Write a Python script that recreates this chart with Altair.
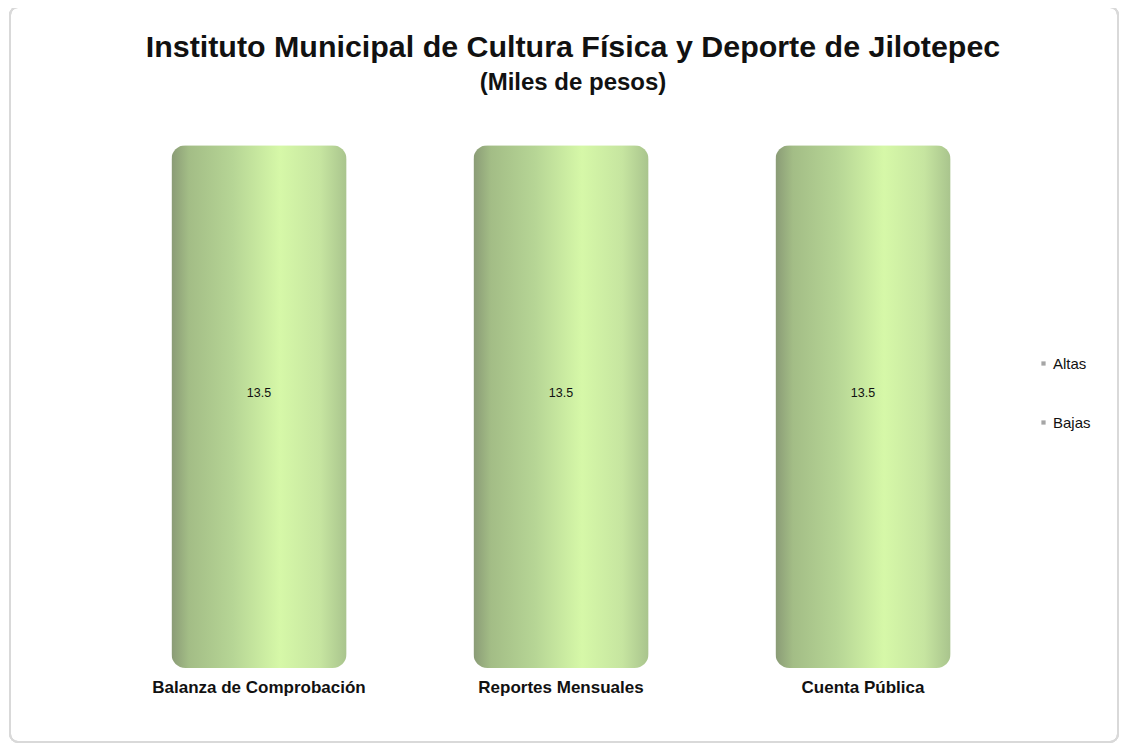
import altair as alt
import pandas as pd

categories = ["Balanza de Comprobación", "Reportes Mensuales", "Cuenta Pública"]
values = [13.5, 13.5, 13.5]
series = ["Altas", "Bajas"]

bars_df = pd.DataFrame({"categoria": categories, "valor": values})
bars_df["mitad"] = bars_df["valor"] / 2
legend_df = pd.DataFrame({"serie": series, "v": [0, 0], "categoria": [categories[0]] * 2})

FONT = "Liberation Sans"

x_enc = alt.X("categoria:N", sort=categories,
              scale=alt.Scale(paddingInner=0.42, paddingOuter=0.21),
              axis=alt.Axis(title=None, labelAngle=0, ticks=False, domain=False,
                            labelFontSize=17, labelFontWeight="bold", labelColor="#111111",
                            labelFont=FONT, labelPadding=11, labelLimit=400, grid=False))
y_scale = alt.Scale(domain=[0, 14], nice=False)

cyl = alt.Gradient(
    gradient="linear", x1=0, x2=1, y1=0, y2=0,
    stops=[
        alt.GradientStop(color="#8a9b76", offset=0),
        alt.GradientStop(color="#a3bd86", offset=0.1),
        alt.GradientStop(color="#b6d595", offset=0.35),
        alt.GradientStop(color="#d6f8a8", offset=0.62),
        alt.GradientStop(color="#c6e5a0", offset=0.85),
        alt.GradientStop(color="#a9c48d", offset=1),
    ],
)

bars = alt.Chart(bars_df).mark_bar(color=cyl, cornerRadius=14).encode(
    x=x_enc,
    y=alt.Y("valor:Q", scale=y_scale, axis=None),
)

labels = alt.Chart(bars_df).mark_text(font=FONT, fontSize=12.5, color="#111111", dy=-14).encode(
    x=alt.X("categoria:N", sort=categories),
    y=alt.Y("mitad:Q", scale=y_scale),
    text=alt.Text("valor:Q", format=".1f"),
)

legend_layer = alt.Chart(legend_df).mark_point(opacity=0, filled=True).encode(
    x=alt.X("categoria:N", sort=categories),
    y=alt.Y("v:Q", scale=y_scale),
    color=alt.Color("serie:N", scale=alt.Scale(domain=series, range=["#a6a6a6", "#a6a6a6"]),
                    legend=alt.Legend(title=None, orient="none", legendX=928, legendY=230,
                                      symbolType="square", symbolSize=18, symbolOpacity=1,
                                      labelFont=FONT, labelFontSize=15, labelColor="#111111",
                                      rowPadding=43, labelOffset=2)),
)

frame = alt.Chart(bars_df).mark_rect(
    fill=None, stroke="#d9d9d9", strokeWidth=2, cornerRadius=8
).encode(
    x=alt.value(-98), x2=alt.value(1010),
    y=alt.value(-119), y2=alt.value(616),
)

chart = alt.layer(frame, bars, labels, legend_layer).properties(
    width=906, height=542,
    autosize=alt.AutoSizeParams(type="none"),
    padding={"left": 100, "top": 118, "right": 105, "bottom": 77},
    background="white",
    title=alt.Title(
        "Instituto Municipal de Cultura Física y Deporte de Jilotepec",
        subtitle="(Miles de pesos)",
        font=FONT, fontSize=30.4, fontWeight="bold", color="#111111",
        subtitleFont=FONT, subtitleFontSize=24, subtitleFontWeight="bold", subtitleColor="#111111",
        subtitlePadding=8, anchor="middle", offset=-89, dx=12,
    ),
).configure_view(stroke="transparent", strokeWidth=0)

chart.save("out.html", embed_options={"renderer": "svg", "actions": False})
